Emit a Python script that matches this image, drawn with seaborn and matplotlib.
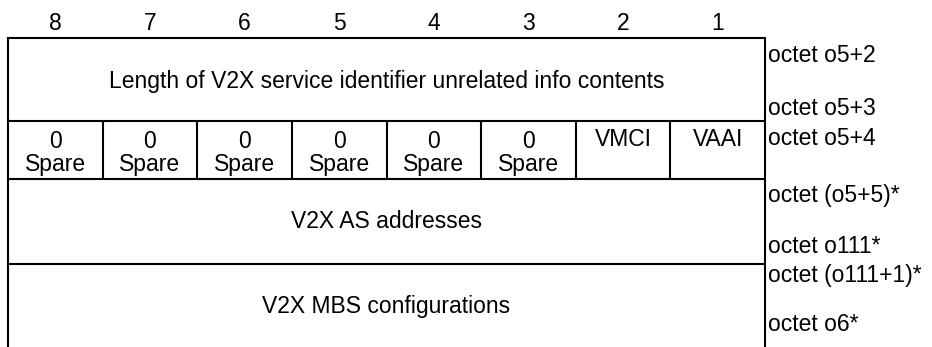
import matplotlib
matplotlib.use("Agg")
import matplotlib.pyplot as plt
import seaborn as sns

sns.set_style("white")
plt.rcParams['font.family'] = ['Liberation Sans', 'DejaVu Sans']
plt.rcParams['text.color'] = 'black'

# ---- content ----
bit_numbers = ["8", "7", "6", "5", "4", "3", "2", "1"]
row1_text = "Length of V2X service identifier unrelated info contents"
row2_values = ["0", "0", "0", "0", "0", "0", "", ""]
row2_names = ["Spare", "Spare", "Spare", "Spare", "Spare", "Spare", "VMCI", "VAAI"]
row3_text = "V2X AS addresses"
row4_text = "V2X MBS configurations"
octet_labels = ["octet o5+2", "octet o5+3", "octet o5+4", "octet (o5+5)*",
                "octet o111*", "octet (o111+1)*", "octet o6*"]

# ---- layout (pixels, y downward) ----
W, H = 932, 347
left, right = 8, 765
row_edges = [38, 121, 179, 264]
header_base = 29.5
row1_base = 88
val_base, name_base, flag_base = 148, 170.5, 145.5
row3_base = 227.5
row4_base = 313
octet_bases = [61.5, 114.5, 145, 201.5, 253, 282, 331]
fs = 16.5
lw = 1.5

fig = plt.figure(figsize=(W / 100, H / 100), dpi=100)
ax = fig.add_axes([0, 0, 1, 1])
ax.set_xlim(0, W)
ax.set_ylim(H, 0)
ax.axis("off")

colw = (right - left) / 8
col_centers = [left + colw * (i + 0.5) for i in range(8)]

# header bit numbers
for x, b in zip(col_centers, bit_numbers):
    ax.text(x, header_base, b, ha="center", va="baseline", fontsize=fs)

# borders
kw = dict(color="black", lw=lw, solid_capstyle="butt")
ax.plot([left, left], [row_edges[0] - 0.7, H + 2], **kw)
ax.plot([right, right], [row_edges[0] - 0.7, H + 2], **kw)
for y in row_edges:
    ax.plot([left - 0.7, right + 0.7], [y, y], **kw)
for i in range(1, 8):
    x = left + colw * i
    ax.plot([x, x], [row_edges[1], row_edges[2]], **kw)

cx = (left + right) / 2
ax.text(cx, row1_base, row1_text, ha="center", va="baseline", fontsize=fs)
for x, v, n in zip(col_centers, row2_values, row2_names):
    if v:
        ax.text(x, val_base, v, ha="center", va="baseline", fontsize=fs)
        ax.text(x, name_base, n, ha="center", va="baseline", fontsize=fs)
    else:
        ax.text(x, flag_base, n, ha="center", va="baseline", fontsize=fs)
ax.text(cx, row3_base, row3_text, ha="center", va="baseline", fontsize=fs)
ax.text(cx, row4_base, row4_text, ha="center", va="baseline", fontsize=fs)

for lab, yb in zip(octet_labels, octet_bases):
    ax.text(right + 3, yb, lab, ha="left", va="baseline", fontsize=fs)

fig.savefig("out.png", dpi=100)
